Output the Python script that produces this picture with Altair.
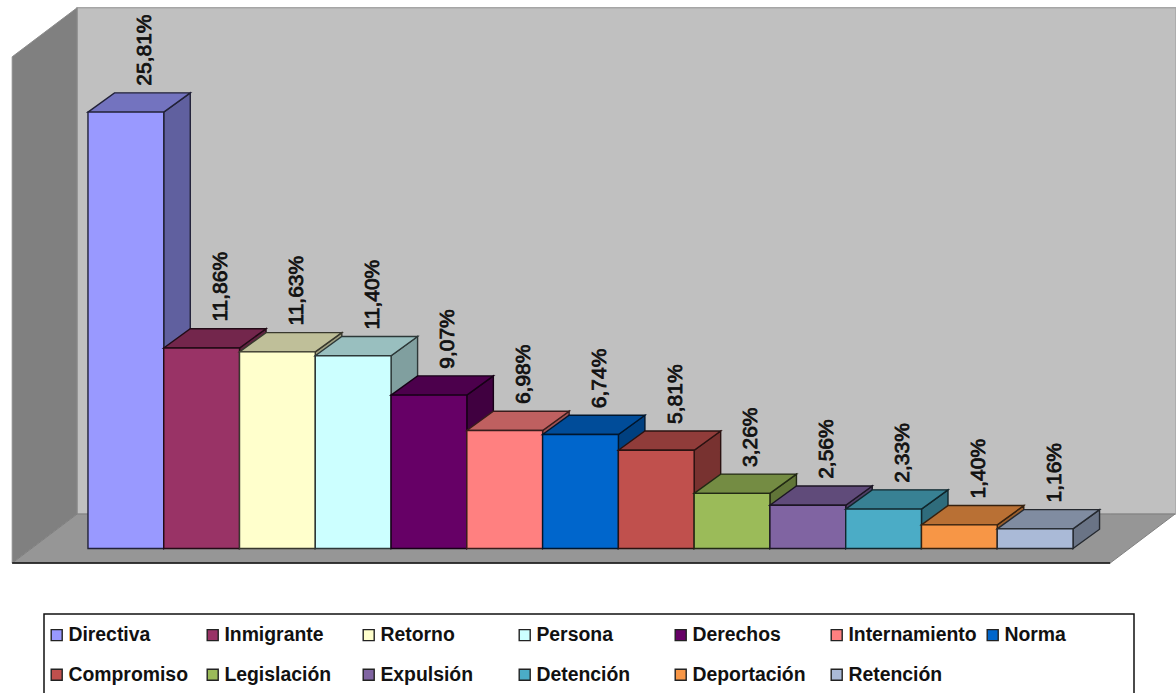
import altair as alt
import pandas as pd

names = ["Directiva", "Inmigrante", "Retorno", "Persona", "Derechos", "Internamiento", "Norma",
         "Compromiso", "Legislación", "Expulsión", "Detención", "Deportación", "Retención"]
values = [25.81, 11.86, 11.63, 11.40, 9.07, 6.98, 6.74, 5.81, 3.26, 2.56, 2.33, 1.40, 1.16]
colors = ["#9999FF", "#993366", "#FFFFCC", "#CCFFFF", "#660066", "#FF8080", "#0066CC",
          "#C0504D", "#9BBB59", "#8064A2", "#4BACC6", "#F79646", "#AABAD7"]

# Plot-space layout, in category units horizontally and percentage points vertically.
X_MIN, X_MAX = -1.161, 14.359
Y_MIN, Y_MAX = -8.545, 32.44
BAR_DX, BAR_DY = 0.35, 1.14      # depth of a bar
ROOM_DX, ROOM_DY = 0.857, 2.90   # depth of the floor and side wall
ROOM_LEFT, ROOM_RIGHT = -1.0, 13.49
FLOOR, CEILING = -0.86, 29.08

x_scale = alt.Scale(domain=[X_MIN, X_MAX], nice=False, zero=False)
y_scale = alt.Scale(domain=[Y_MIN, Y_MAX], nice=False, zero=False)
X = alt.X("x:Q", scale=x_scale, axis=None)
Y = alt.Y("y:Q", scale=y_scale, axis=None)


def shade(hex_color, factor):
    channels = [int(hex_color[i:i + 2], 16) for i in (1, 3, 5)]
    return "#" + "".join(f"{round(c * factor):02x}" for c in channels)


def area(xs, lows, highs, fill, stroke, width=1.0):
    frame = pd.DataFrame({"x": xs, "y": lows, "y2": highs})
    return alt.Chart(frame).mark_area(
        fill=fill, stroke=stroke, strokeWidth=width, strokeJoin="miter", opacity=1
    ).encode(x=X, y=Y, y2="y2:Q")


def parallelogram(x0, width, y, dx, dy, fill, stroke, line=1.0):
    return area([x0, x0 + dx, x0 + width, x0 + width + dx],
                [y, y, y, y + dy], [y, y + dy, y + dy, y + dy], fill, stroke, line)


layers = []

# Back wall, side wall and floor of the chart's box.
layers.append(
    alt.Chart(pd.DataFrame({"x": [ROOM_LEFT + ROOM_DX], "x2": [X_MAX],
                            "y": [FLOOR + ROOM_DY], "y2": [CEILING + ROOM_DY]}))
    .mark_rect(fill="#c0c0c0", stroke="#a6a6a6", strokeWidth=1.5)
    .encode(x=X, x2="x2:Q", y=Y, y2="y2:Q")
)
layers.append(area([ROOM_LEFT, ROOM_LEFT + ROOM_DX], [FLOOR, FLOOR + ROOM_DY],
                   [CEILING, CEILING + ROOM_DY], "#808080", "#8c8c8c"))
layers.append(parallelogram(ROOM_LEFT, ROOM_RIGHT - ROOM_LEFT, FLOOR, ROOM_DX, ROOM_DY,
                            "#969696", "#808080"))
layers.append(
    alt.Chart(pd.DataFrame({"x": [ROOM_LEFT, ROOM_RIGHT], "y": [FLOOR, FLOOR]}))
    .mark_line(color="#111111", strokeWidth=1.6)
    .encode(x=X, y=Y)
)

legend = alt.Legend(
    title=None, orient="none", legendX=44, legendY=622, columns=7, direction="horizontal",
    gridAlign="all", padding=3, columnPadding=6, rowPadding=19, symbolType="square",
    symbolSize=121, symbolStrokeColor="#222222", symbolStrokeWidth=1.4, symbolOpacity=1,
    labelFont="Liberation Sans", labelFontWeight="bold", labelFontSize=19.4,
    labelColor="#111111", labelLimit=300, labelOffset=2,
)
color = alt.Color("name:N", scale=alt.Scale(domain=names, range=colors), legend=legend)

# Legend frame, continuing past the lower edge of the page.
layers.append(
    alt.Chart(pd.DataFrame({"k": [0]})).mark_rect(fill="#ffffff", stroke="#111111", strokeWidth=1.5)
    .encode(x=alt.value(44), x2=alt.value(1134), y=alt.value(614), y2=alt.value(705))
)

# Bars are painted left to right so that each one overlaps its neighbour's depth faces.
for i, (name, value, fill) in enumerate(zip(names, values, colors)):
    edge = shade(fill, 0.22)
    layers.append(area([i + 1, i + 1 + BAR_DX], [0, BAR_DY], [value, value + BAR_DY],
                       shade(fill, 0.625), edge, 1.4))
    layers.append(parallelogram(i, 1, value, BAR_DX, BAR_DY, shade(fill, 0.75), edge, 1.4))
    front = pd.DataFrame({"x": [i], "x2": [i + 1], "y": [0], "y2": [value], "name": [name]})
    layers.append(
        alt.Chart(front).mark_rect(stroke=edge, strokeWidth=1.4, opacity=1)
        .encode(x=X, x2="x2:Q", y=Y, y2="y2:Q", color=color)
    )

labels = pd.DataFrame({
    "x": [i + 0.5 + 0.335 for i in range(len(values))],
    "y": [v + 1.56 for v in values],
    "label": [f"{v:.2f}%".replace(".", ",") for v in values],
})
layers.append(
    alt.Chart(labels).mark_text(
        angle=270, align="left", baseline="alphabetic", font="Liberation Sans",
        fontSize=21, fontWeight="normal", color="#111111", stroke="#111111", strokeWidth=0.8,
    ).encode(x=X, y=Y, text="label:N")
)

chart = alt.layer(*layers).properties(
    width=1176, height=693, padding=0, autosize=alt.AutoSizeParams(type="none"),
    background="#ffffff",
).configure_view(stroke=None)

chart.save("out.html", embed_options={"renderer": "svg", "actions": False})
